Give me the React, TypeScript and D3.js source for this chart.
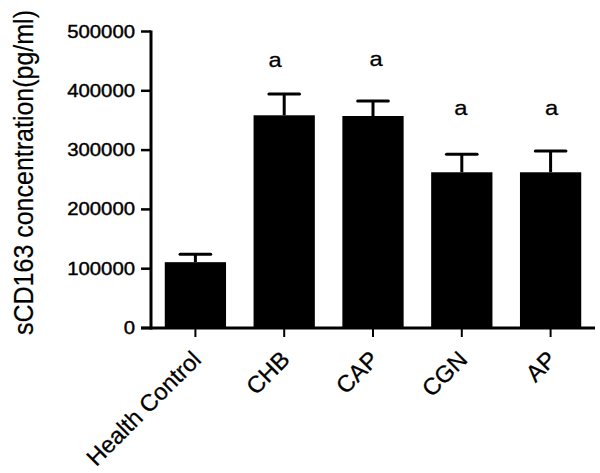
import React from "react";
import * as d3 from "d3";

const categories = ["Health Control", "CHB", "CAP", "CGN", "AP"];
const means = [111000, 358700, 357500, 262600, 262600];
const errors = [13300, 35900, 25300, 30300, 35900];
const letters = ["", "a", "a", "a", "a"];
const letterValues = [0, 440000, 442000, 359000, 359000];
const letterDx = [0, -9, 3, -1, 1];
const yTicks = [0, 100000, 200000, 300000, 400000, 500000];
const yTitle = "sCD163 concentration(pg/ml)";

const W = 600;
const H = 473;
const SX = 1.13;
const FONT = "'Liberation Sans', Arial, Helvetica, sans-serif";

export default function App() {
  const x = d3
    .scaleBand<string>()
    .domain(categories)
    .range([151, 595])
    .paddingInner(0.31)
    .paddingOuter(0.155);
  const y = d3.scaleLinear().domain([0, 500000]).range([328, 31.5]);
  const bw = x.bandwidth();
  const capW = bw * 0.5;

  return (
    <svg
      width={W}
      height={H}
      style={{ position: "absolute", left: 0, top: 0, background: "#fff" }}
      fontFamily={FONT}
    >
      <rect x={0} y={0} width={W} height={H} fill="#fff" />
      {/* bars */}
      {categories.map((c, i) => (
        <rect
          key={"b" + c}
          x={x(c)}
          y={y(means[i])}
          width={bw}
          height={y(0) - y(means[i])}
          fill="#000"
        />
      ))}
      {/* error bars */}
      {categories.map((c, i) => {
        const cx = (x(c) as number) + bw / 2;
        const top = y(means[i] + errors[i]);
        return (
          <g key={"e" + c} stroke="#000" strokeWidth={3}>
            <line x1={cx} x2={cx} y1={y(means[i])} y2={top} />
            <line x1={cx - capW / 2} x2={cx + capW / 2} y1={top} y2={top} strokeLinecap="round" />
          </g>
        );
      })}
      {/* significance letters */}
      {categories.map((c, i) =>
        letters[i] ? (
          <text
            key={"l" + c}
            transform={`translate(${(x(c) as number) + bw / 2 + letterDx[i]},${y(letterValues[i])}) scale(${SX},1)`}
            textAnchor="middle"
            fontSize={21}
            fill="#000"
            stroke="#000"
            strokeWidth={0.3}
          >
            {letters[i]}
          </text>
        ) : null
      )}
      {/* y axis */}
      <line x1={151} x2={151} y1={y(500000) - 1} y2={y(0) + 1.5} stroke="#000" strokeWidth={3} />
      {yTicks.map((t) => (
        <g key={"yt" + t}>
          <line x1={141} x2={151} y1={y(t)} y2={y(t)} stroke="#000" strokeWidth={2.5} />
          <text
            transform={`translate(135,${y(t)}) scale(${SX},1)`}
            textAnchor="end"
            dominantBaseline="central"
            fontSize={18}
            fill="#000"
            stroke="#000"
            strokeWidth={0.4}
          >
            {t}
          </text>
        </g>
      ))}
      {/* x axis */}
      <line x1={141} x2={595} y1={y(0)} y2={y(0)} stroke="#000" strokeWidth={3} />
      {categories.map((c) => {
        const cx = (x(c) as number) + bw / 2;
        return (
          <g key={"xt" + c}>
            <line x1={cx} x2={cx} y1={y(0)} y2={y(0) + 9} stroke="#000" strokeWidth={2} />
            <text
              transform={`translate(${cx + 7},361) rotate(-45)`}
              textAnchor="end"
              fontSize={23.5}
              fill="#000"
              stroke="#000"
              strokeWidth={0.3}
            >
              {c}
            </text>
          </g>
        );
      })}
      {/* y title */}
      <text
        transform={`translate(33,172.5) scale(${SX},1) rotate(-90)`}
        textAnchor="middle"
        fontSize={25}
        fill="#000"
        stroke="#000"
        strokeWidth={0.2}
      >
        {yTitle}
      </text>
    </svg>
  );
}
